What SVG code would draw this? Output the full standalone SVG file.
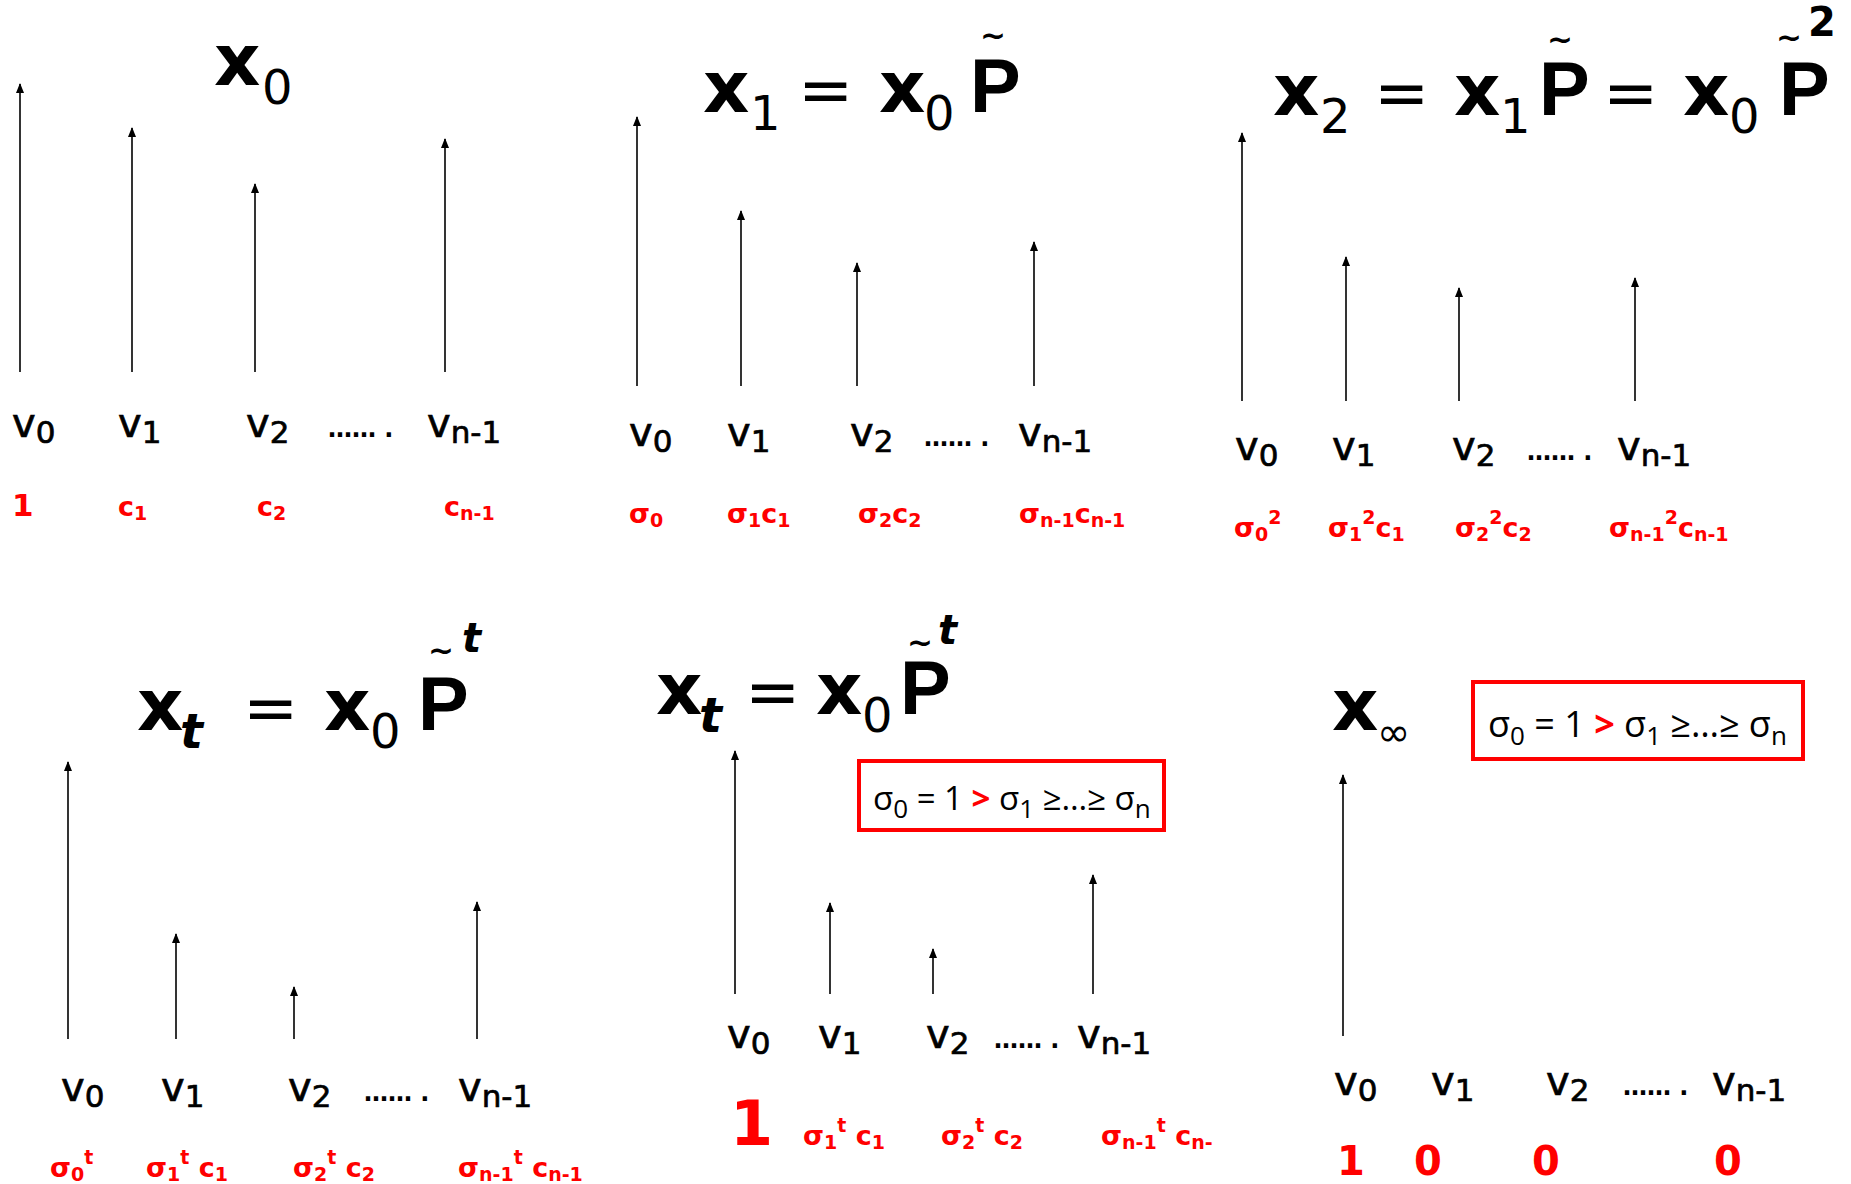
<svg xmlns="http://www.w3.org/2000/svg" width="1851" height="1184" viewBox="0 0 1851 1184">
<defs>
<marker id="ah" markerUnits="userSpaceOnUse" markerWidth="10" markerHeight="12" viewBox="0 0 10 12" refX="5" refY="1" orient="0">
<path d="M5 0 L9 10 L1 10 Z" fill="#000"/>
</marker>
<style>
.ti{font-family:"DejaVu Sans",sans-serif;font-weight:bold;font-size:72px;fill:#000}
.tsub{font-family:"DejaVu Sans",sans-serif;font-weight:normal;font-size:48px;fill:#000}
.eq{font-family:"DejaVu Sans",sans-serif;font-weight:normal;font-size:66px;fill:#000}
.pp{font-family:"Liberation Sans",sans-serif;font-weight:bold;font-size:76px;fill:#000}
.til{font-family:"DejaVu Sans",sans-serif;font-weight:bold;font-size:31px;text-anchor:middle}
.sup{font-family:"DejaVu Sans",sans-serif;font-weight:bold;font-size:40px;text-anchor:start}
.it{font-style:italic;font-weight:bold}
.lb{font-family:"DejaVu Sans",sans-serif;font-size:40px;fill:#000;stroke:#000;stroke-width:0.7}
.ls{font-size:31px}
.dots{font-family:"DejaVu Sans",sans-serif;font-size:24px;font-weight:bold;fill:#000}
.rd{font-family:"DejaVu Sans",sans-serif;font-weight:bold;font-size:27px;fill:#f00}
.rs{font-size:19px}
.ar{stroke:#000;stroke-width:1.6;fill:none;marker-end:url(#ah)}
.bx{fill:#fff;stroke:#f00;stroke-width:4}
.bt{font-family:"Open Sans",sans-serif;font-size:36px;fill:#000}
.bt5{font-size:33px}
.bs{font-size:26px}
.gt{fill:#f00;font-weight:bold}
</style>
</defs>

<g id="connectors">
<line class="ar" x1="20" y1="372" x2="20" y2="84"/>
<line class="ar" x1="132" y1="372" x2="132" y2="128"/>
<line class="ar" x1="255" y1="372" x2="255" y2="184"/>
<line class="ar" x1="445" y1="372" x2="445" y2="139"/>

<line class="ar" x1="637" y1="386" x2="637" y2="117"/>
<line class="ar" x1="741" y1="386" x2="741" y2="211"/>
<line class="ar" x1="857" y1="386" x2="857" y2="263"/>
<line class="ar" x1="1034" y1="386" x2="1034" y2="242"/>

<line class="ar" x1="1242" y1="401" x2="1242" y2="133"/>
<line class="ar" x1="1346" y1="401" x2="1346" y2="257"/>
<line class="ar" x1="1459" y1="401" x2="1459" y2="288"/>
<line class="ar" x1="1635" y1="401" x2="1635" y2="278"/>

<line class="ar" x1="68" y1="1039" x2="68" y2="762"/>
<line class="ar" x1="176" y1="1039" x2="176" y2="934"/>
<line class="ar" x1="294" y1="1039" x2="294" y2="987"/>
<line class="ar" x1="477" y1="1039" x2="477" y2="902"/>

<line class="ar" x1="735" y1="994" x2="735" y2="751"/>
<line class="ar" x1="830" y1="994" x2="830" y2="903"/>
<line class="ar" x1="933" y1="994" x2="933" y2="949"/>
<line class="ar" x1="1093" y1="994" x2="1093" y2="875"/>

<line class="ar" x1="1343" y1="1036" x2="1343" y2="775"/>
</g>

<g id="panel-x0">
<text class="ti" x="214" y="85">x</text>
<text class="tsub" x="262" y="104">0</text>
<text class="lb" x="12" y="437">v<tspan class="ls" dy="6">0</tspan></text>
<text class="lb" x="118" y="437">v<tspan class="ls" dy="6">1</tspan></text>
<text class="lb" x="246" y="437">v<tspan class="ls" dy="6">2</tspan></text>
<text class="dots" x="328" y="437">…… .</text>
<text class="lb" x="427" y="437">v<tspan class="ls" dy="6">n-1</tspan></text>
<text class="rd" x="12" y="516" style="font-size:31px">1</text>
<text class="rd" x="118" y="516">c<tspan class="rs" dy="4">1</tspan></text>
<text class="rd" x="257" y="516">c<tspan class="rs" dy="4">2</tspan></text>
<text class="rd" x="444" y="516">c<tspan class="rs" dy="4">n-1</tspan></text>
</g>

<g id="panel-x1">
<text class="ti" x="703" y="112">x</text>
<text class="tsub" x="750" y="130">1</text>
<text class="eq" x="798" y="112">=</text>
<text class="ti" x="879" y="112">x</text>
<text class="tsub" x="924" y="130">0</text>
<text class="pp" x="970" y="112">P<tspan class="til" x="993" y="46">~</tspan></text>
<text class="lb" x="629" y="446">v<tspan class="ls" dy="6">0</tspan></text>
<text class="lb" x="727" y="446">v<tspan class="ls" dy="6">1</tspan></text>
<text class="lb" x="850" y="446">v<tspan class="ls" dy="6">2</tspan></text>
<text class="dots" x="924" y="446">…… .</text>
<text class="lb" x="1018" y="446">v<tspan class="ls" dy="6">n-1</tspan></text>
<text class="rd" x="629" y="523">σ<tspan class="rs" dy="4">0</tspan></text>
<text class="rd" x="727" y="523">σ<tspan class="rs" dy="4">1</tspan><tspan dy="-4">c</tspan><tspan class="rs" dy="4">1</tspan></text>
<text class="rd" x="858" y="523">σ<tspan class="rs" dy="4">2</tspan><tspan dy="-4">c</tspan><tspan class="rs" dy="4">2</tspan></text>
<text class="rd" x="1019" y="523">σ<tspan class="rs" dy="4">n-1</tspan><tspan dy="-4">c</tspan><tspan class="rs" dy="4">n-1</tspan></text>
</g>

<g id="panel-x2">
<text class="ti" x="1273" y="115">x</text>
<text class="tsub" x="1320" y="133">2</text>
<text class="eq" x="1374" y="115">=</text>
<text class="ti" x="1454" y="115">x</text>
<text class="tsub" x="1500" y="133">1</text>
<text class="pp" x="1539" y="115">P<tspan class="til" x="1560" y="50">~</tspan></text>
<text class="eq" x="1603" y="115">=</text>
<text class="ti" x="1683" y="115">x</text>
<text class="tsub" x="1729" y="133">0</text>
<text class="pp" x="1779" y="115">P<tspan class="til" x="1789" y="48">~</tspan><tspan class="sup" x="1808" y="36">2</tspan></text>
<text class="lb" x="1235" y="460">v<tspan class="ls" dy="6">0</tspan></text>
<text class="lb" x="1332" y="460">v<tspan class="ls" dy="6">1</tspan></text>
<text class="lb" x="1452" y="460">v<tspan class="ls" dy="6">2</tspan></text>
<text class="dots" x="1527" y="460">…… .</text>
<text class="lb" x="1617" y="460">v<tspan class="ls" dy="6">n-1</tspan></text>
<text class="rd" x="1234" y="537">σ<tspan class="rs" dy="4">0</tspan><tspan class="rs" dy="-17">2</tspan></text>
<text class="rd" x="1328" y="537">σ<tspan class="rs" dy="4">1</tspan><tspan class="rs" dy="-17">2</tspan><tspan dy="13">c</tspan><tspan class="rs" dy="4">1</tspan></text>
<text class="rd" x="1455" y="537">σ<tspan class="rs" dy="4">2</tspan><tspan class="rs" dy="-17">2</tspan><tspan dy="13">c</tspan><tspan class="rs" dy="4">2</tspan></text>
<text class="rd" x="1609" y="537">σ<tspan class="rs" dy="4">n-1</tspan><tspan class="rs" dy="-17">2</tspan><tspan dy="13">c</tspan><tspan class="rs" dy="4">n-1</tspan></text>
</g>

<g id="panel-xt-a">
<text class="ti" x="137" y="730">x</text>
<text class="tsub it" x="180" y="748">t</text>
<text class="eq" x="243" y="730">=</text>
<text class="ti" x="324" y="730">x</text>
<text class="tsub" x="370" y="748">0</text>
<text class="pp" x="418" y="730">P<tspan class="til" x="441" y="661">~</tspan><tspan class="sup it" x="462" y="652">t</tspan></text>
<text class="lb" x="61" y="1101">v<tspan class="ls" dy="6">0</tspan></text>
<text class="lb" x="161" y="1101">v<tspan class="ls" dy="6">1</tspan></text>
<text class="lb" x="288" y="1101">v<tspan class="ls" dy="6">2</tspan></text>
<text class="dots" x="364" y="1101">…… .</text>
<text class="lb" x="458" y="1101">v<tspan class="ls" dy="6">n-1</tspan></text>
<text class="rd" x="50" y="1177">σ<tspan class="rs" dy="4">0</tspan><tspan class="rs" dy="-17">t</tspan></text>
<text class="rd" x="146" y="1177">σ<tspan class="rs" dy="4">1</tspan><tspan class="rs" dy="-17">t</tspan><tspan dy="13"> c</tspan><tspan class="rs" dy="4">1</tspan></text>
<text class="rd" x="293" y="1177">σ<tspan class="rs" dy="4">2</tspan><tspan class="rs" dy="-17">t</tspan><tspan dy="13"> c</tspan><tspan class="rs" dy="4">2</tspan></text>
<text class="rd" x="458" y="1177">σ<tspan class="rs" dy="4">n-1</tspan><tspan class="rs" dy="-17">t</tspan><tspan dy="13"> c</tspan><tspan class="rs" dy="4">n-1</tspan></text>
</g>

<g id="panel-xt-b">
<text class="ti" x="656" y="714">x</text>
<text class="tsub it" x="699" y="732">t</text>
<text class="eq" x="745" y="714">=</text>
<text class="ti" x="816" y="714">x</text>
<text class="tsub" x="862" y="732">0</text>
<text class="pp" x="900" y="714">P<tspan class="til" x="920" y="653">~</tspan><tspan class="sup it" x="938" y="644">t</tspan></text>
<rect class="bx" x="859" y="761" width="305" height="69"/>
<text class="bt bt5" x="873" y="810">σ<tspan class="bs" dy="8">0</tspan><tspan dy="-8"> = 1 </tspan><tspan class="gt">&gt;</tspan> σ<tspan class="bs" dy="8">1</tspan><tspan dy="-8"> ≥…≥ σ</tspan><tspan class="bs" dy="8">n</tspan></text>
<text class="lb" x="727" y="1048">v<tspan class="ls" dy="6">0</tspan></text>
<text class="lb" x="818" y="1048">v<tspan class="ls" dy="6">1</tspan></text>
<text class="lb" x="926" y="1048">v<tspan class="ls" dy="6">2</tspan></text>
<text class="dots" x="994" y="1048">…… .</text>
<text class="lb" x="1077" y="1048">v<tspan class="ls" dy="6">n-1</tspan></text>
<text class="rd" x="730" y="1145" style="font-size:62px">1</text>
<text class="rd" x="803" y="1145">σ<tspan class="rs" dy="4">1</tspan><tspan class="rs" dy="-17">t</tspan><tspan dy="13"> c</tspan><tspan class="rs" dy="4">1</tspan></text>
<text class="rd" x="941" y="1145">σ<tspan class="rs" dy="4">2</tspan><tspan class="rs" dy="-17">t</tspan><tspan dy="13"> c</tspan><tspan class="rs" dy="4">2</tspan></text>
<text class="rd" x="1101" y="1145">σ<tspan class="rs" dy="4">n-1</tspan><tspan class="rs" dy="-17">t</tspan><tspan dy="13"> c</tspan><tspan class="rs" dy="4">n-</tspan></text>
</g>

<g id="panel-xinf">
<text class="ti" x="1332" y="730">x</text>
<text class="tsub" x="1377" y="746" style="font-size:40px">∞</text>
<rect class="bx" x="1473" y="682" width="330" height="77"/>
<text class="bt" x="1488" y="737">σ<tspan class="bs" dy="8">0</tspan><tspan dy="-8"> = 1 </tspan><tspan class="gt">&gt;</tspan> σ<tspan class="bs" dy="8">1</tspan><tspan dy="-8"> ≥…≥ σ</tspan><tspan class="bs" dy="8">n</tspan></text>
<text class="lb" x="1334" y="1095">v<tspan class="ls" dy="6">0</tspan></text>
<text class="lb" x="1431" y="1095">v<tspan class="ls" dy="6">1</tspan></text>
<text class="lb" x="1546" y="1095">v<tspan class="ls" dy="6">2</tspan></text>
<text class="dots" x="1623" y="1095">…… .</text>
<text class="lb" x="1712" y="1095">v<tspan class="ls" dy="6">n-1</tspan></text>
<text class="rd" x="1337" y="1175" style="font-size:40px">1</text>
<text class="rd" x="1414" y="1175" style="font-size:40px">0</text>
<text class="rd" x="1532" y="1175" style="font-size:40px">0</text>
<text class="rd" x="1714" y="1175" style="font-size:40px">0</text>
</g>
</svg>
